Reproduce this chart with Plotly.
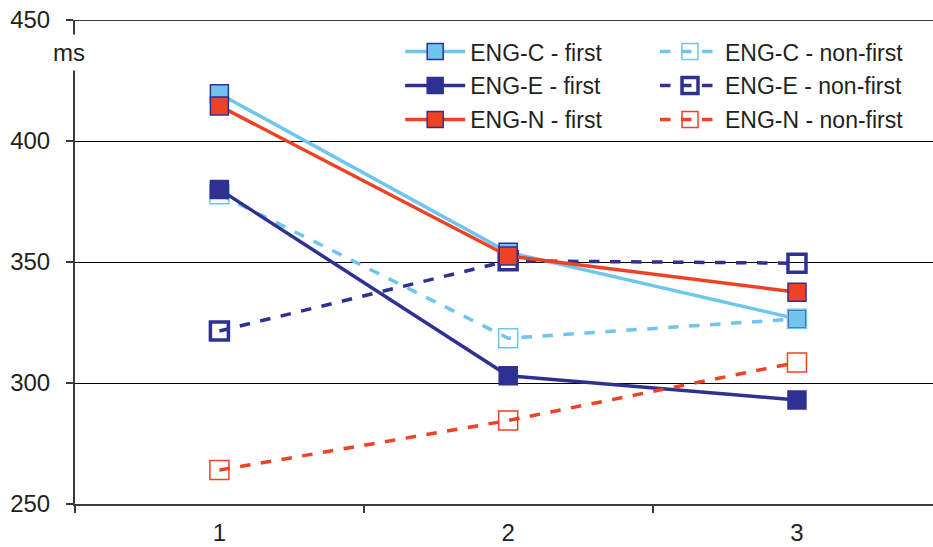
import plotly.graph_objects as go

conditions = [1, 2, 3]
tick_labels = ["1", "2", "3"]
y_ticks = [250, 300, 350, 400, 450]

eng_c_first = [419.5, 354.0, 326.5]
eng_c_nonfirst = [378.0, 318.5, 326.5]
eng_e_first = [380.0, 303.0, 293.0]
eng_e_nonfirst = [321.5, 350.5, 349.5]
eng_n_first = [414.5, 352.5, 337.5]
eng_n_nonfirst = [264.0, 284.5, 308.5]

LB = "#6ec6ee"
DB = "#2e3192"
RD = "#ef4123"
FONT = "Liberation Sans, Arial, sans-serif"

fig = go.Figure()

def add(name, y, color, dash, symbol, fill, border, bw, size, legend, group):
    fig.add_trace(go.Scatter(
        x=conditions, y=y, name=name, mode="lines+markers",
        line=dict(color=color, width=3.5, dash=dash),
        marker=dict(symbol=symbol, size=size, color=fill,
                    line=dict(color=border, width=bw)),
        legend=legend, legendgroup=group,
    ))

add("ENG-C - first", eng_c_first, LB, "solid", "square", LB, DB, 1.5, 18, "legend", "a")
add("ENG-C - non-first", eng_c_nonfirst, LB, "dash", "square-open", LB, LB, 1.5, 19, "legend2", "d")
add("ENG-E - first", eng_e_first, DB, "solid", "square", DB, DB, 1.5, 18, "legend", "b")
add("ENG-E - non-first", eng_e_nonfirst, DB, "dash", "square-open", DB, DB, 3.5, 18, "legend2", "e")
add("ENG-N - first", eng_n_first, RD, "solid", "square", RD, DB, 1.5, 18, "legend", "c")
add("ENG-N - non-first", eng_n_nonfirst, RD, "dash", "square-open", RD, RD, 1.5, 19, "legend2", "f")

# top border line
fig.add_shape(type="line", xref="paper", x0=0, x1=1, yref="y", y0=450, y1=450,
              line=dict(color="#3a3a3a", width=2))

# "ms" unit label over the axis line
fig.add_annotation(text="ms", xref="paper", x=-0.007, xanchor="center",
                   yref="y", y=436.5, yanchor="middle",
                   showarrow=False, font=dict(family=FONT, size=24, color="#231f20"),
                   bgcolor="white", borderpad=4)

legend_common = dict(font=dict(family=FONT, size=23, color="#231f20"),
                     bgcolor="rgba(0,0,0,0)", orientation="v",
                     tracegroupgap=1, xanchor="left", yanchor="top",
                     itemwidth=60)

fig.update_layout(
    width=933, height=547,
    margin=dict(l=75, r=0, t=20, b=43, autoexpand=False),
    paper_bgcolor="white", plot_bgcolor="white",
    font=dict(family=FONT, size=24, color="#231f20"),
    legend=dict(x=0.379, y=0.979, **legend_common),
    legend2=dict(x=0.676, y=0.979, **legend_common),
    xaxis=dict(range=[0.5, 3.471], tickmode="array", tickvals=conditions,
               ticktext=tick_labels, ticks="", showgrid=False,
               showline=True, linecolor="#3a3a3a", linewidth=2,
               zeroline=False, ticklabelstandoff=6, automargin=False,
               minor=dict(tickmode="array", tickvals=[0.5, 1.5, 2.5, 3.5],
                          ticks="outside", ticklen=7, tickcolor="#3a3a3a",
                          tickwidth=1.5, showgrid=False),
               tickfont=dict(family=FONT, size=24, color="#231f20")),
    yaxis=dict(range=[250, 450], tickmode="array", tickvals=y_ticks,
               ticks="outside", ticklen=7, tickcolor="#3a3a3a", tickwidth=1.5,
               showgrid=True, gridcolor="#000000", gridwidth=1,
               showline=True, linecolor="#3a3a3a", linewidth=2,
               zeroline=False, ticklabelstandoff=11, automargin=False,
               tickfont=dict(family=FONT, size=24, color="#231f20")),
)

fig.write_html("out.html", config={"displayModeBar": False},
               post_script="document.body.style.margin='0';document.body.style.padding='0';")
